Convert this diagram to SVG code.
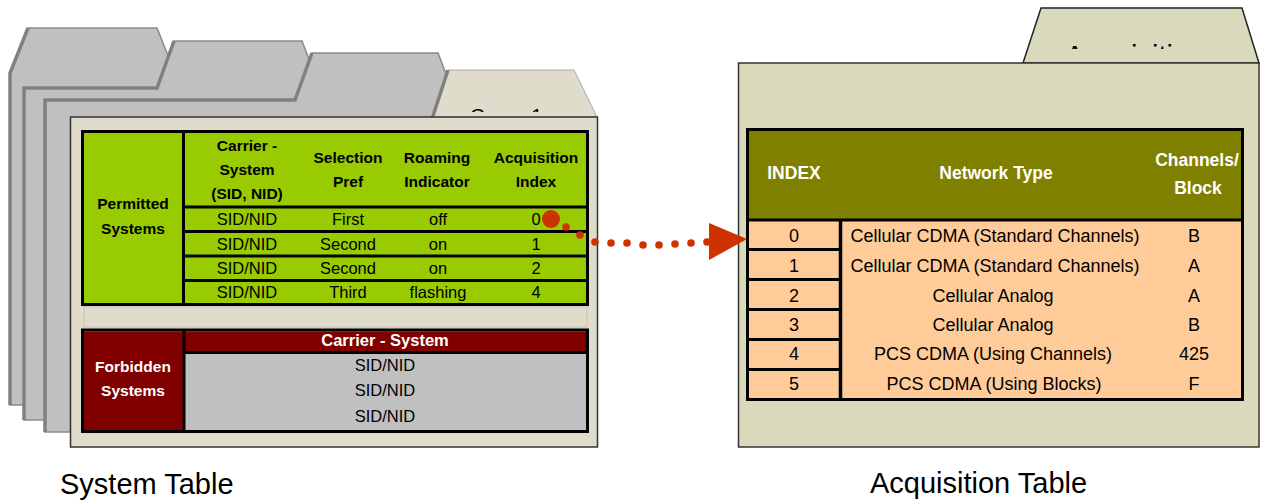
<svg xmlns="http://www.w3.org/2000/svg" width="1263" height="500" viewBox="0 0 1263 500">
<defs>
<style>
.t{font-family:"Liberation Sans",Arial,sans-serif;text-anchor:middle;fill:#000}
.hd{font-size:15.5px;font-weight:bold}
.cell{font-size:16.5px}
.ac{font-size:18px}
.ah{font-size:17.5px;font-weight:bold;fill:#fff}
.wh{fill:#fff}
.fold{fill:#C0C0C0;stroke:#8a8a8a;stroke-width:1.5}
.shade{fill:none;stroke:#808080;stroke-width:3.5}
.ln{stroke:#000;stroke-width:3}
.dot{fill:#CC3300}
.lbl{font-family:"Liberation Sans",Arial,sans-serif;font-size:29px;fill:#000}
</style>
<clipPath id="clipG"><rect x="440" y="60" width="150" height="52"/></clipPath>
<clipPath id="clipA"><rect x="1030" y="0" width="220" height="49"/></clipPath>
</defs>
<rect width="1263" height="500" fill="#fff"/>

<g id="folder-stack">
  <polygon class="fold" points="10,405 10,73 28,28 157,28 175,73 540,73 540,405"/>
  <polyline class="shade" points="10,405 10,73 28,28"/>
  <polygon class="fold" points="24,420 24,88 157,88 174,41 302,41 320,88 550,88 550,420"/>
  <polyline class="shade" points="24,420 24,88 157,88 174,41"/>
  <polygon class="fold" points="45,432 45,100 295,100 312,53 438,53 456,100 560,100 560,432"/>
  <polyline class="shade" points="45,432 45,100 295,100 312,53"/>
</g>

<g id="system-table">
  <polygon points="432,117 448,70 574,70 597,117" fill="#DFDCCB" stroke="#aaa" stroke-width="1"/>
  <line x1="432" y1="119" x2="448" y2="70" stroke="#808080" stroke-width="3.5"/>
  <text class="t" x="470" y="122.6" style="text-anchor:start;font-size:20px" clip-path="url(#clipG)">Group 1</text>
  <rect x="70.5" y="117" width="527" height="330" fill="#DFDCCB" stroke="#333" stroke-width="1.5"/>

  <rect x="82.5" y="131.5" width="505" height="173" fill="#99CC00" stroke="#000" stroke-width="3"/>
  <line class="ln" x1="183.5" y1="131" x2="183.5" y2="305"/>
  <line class="ln" x1="183" y1="207" x2="588" y2="207"/>
  <line class="ln" x1="183" y1="231.5" x2="588" y2="231.5"/>
  <line class="ln" x1="183" y1="256" x2="588" y2="256"/>
  <line class="ln" x1="183" y1="280.5" x2="588" y2="280.5"/>

  <text class="t hd" x="133" y="209">Permitted</text>
  <text class="t hd" x="133" y="234">Systems</text>
  <text class="t hd" x="247" y="150.5">Carrier -</text>
  <text class="t hd" x="247" y="174.5">System</text>
  <text class="t hd" x="247" y="198.5">(SID, NID)</text>
  <text class="t hd" x="348" y="162.5">Selection</text>
  <text class="t hd" x="348" y="186.5">Pref</text>
  <text class="t hd" x="437" y="162.5">Roaming</text>
  <text class="t hd" x="437" y="186.5">Indicator</text>
  <text class="t hd" x="536" y="162.5">Acquisition</text>
  <text class="t hd" x="536" y="186.5">Index</text>

  <text class="t cell" x="247" y="225">SID/NID</text>
  <text class="t cell" x="348" y="225">First</text>
  <text class="t cell" x="438" y="225">off</text>
  <text class="t cell" x="536" y="225">0</text>
  <text class="t cell" x="247" y="250">SID/NID</text>
  <text class="t cell" x="348" y="250">Second</text>
  <text class="t cell" x="438" y="250">on</text>
  <text class="t cell" x="536" y="250">1</text>
  <text class="t cell" x="247" y="274">SID/NID</text>
  <text class="t cell" x="348" y="274">Second</text>
  <text class="t cell" x="438" y="274">on</text>
  <text class="t cell" x="536" y="274">2</text>
  <text class="t cell" x="247" y="298">SID/NID</text>
  <text class="t cell" x="348" y="298">Third</text>
  <text class="t cell" x="438" y="298">flashing</text>
  <text class="t cell" x="536" y="298">4</text>

  <rect x="84" y="307" width="503" height="20" fill="#DFDCCB" stroke="#c4c1b0" stroke-width="1"/>

  <rect x="82.5" y="330" width="505" height="101.5" fill="#C0C0C0" stroke="#000" stroke-width="3"/>
  <rect x="84" y="331.5" width="99" height="98.5" fill="#800000"/>
  <rect x="185" y="331.5" width="401" height="20" fill="#800000"/>
  <line class="ln" x1="184" y1="330" x2="184" y2="431"/>
  <line class="ln" x1="184" y1="352.5" x2="588" y2="352.5"/>
  <text class="t hd wh" x="133" y="371.5">Forbidden</text>
  <text class="t hd wh" x="133" y="395.5">Systems</text>
  <text class="t wh" x="385" y="346" style="font-size:16.5px;font-weight:bold">Carrier - System</text>
  <text class="t cell" x="385" y="371">SID/NID</text>
  <text class="t cell" x="385" y="396">SID/NID</text>
  <text class="t cell" x="385" y="422">SID/NID</text>
</g>

<g id="acquisition-table">
  <polygon points="1023,63 1041,8 1242,8 1259,63" fill="#D9D9BC" stroke="#222" stroke-width="1.5"/>
  <text class="t" x="1065" y="66" style="text-anchor:start;font-size:29px" clip-path="url(#clipA)">Acquisition</text>
  <rect x="738.5" y="63" width="520.5" height="384" fill="#D9D9BC" stroke="#333" stroke-width="1.5"/>

  <rect x="747.5" y="129.5" width="495" height="270" fill="#FFCC99" stroke="#000" stroke-width="3"/>
  <rect x="749" y="131" width="492" height="88" fill="#808000"/>
  <line class="ln" x1="747" y1="220" x2="1243" y2="220"/>
  <line x1="840.5" y1="220" x2="840.5" y2="400" stroke="#000" stroke-width="3.5"/>
  <line class="ln" x1="747" y1="249.5" x2="840" y2="249.5"/>
  <line class="ln" x1="747" y1="279.5" x2="840" y2="279.5"/>
  <line class="ln" x1="747" y1="309.5" x2="840" y2="309.5"/>
  <line class="ln" x1="747" y1="339.5" x2="840" y2="339.5"/>
  <line class="ln" x1="747" y1="369.5" x2="840" y2="369.5"/>

  <text class="t ah" x="794" y="179">INDEX</text>
  <text class="t ah" x="996" y="179">Network Type</text>
  <text class="t ah" x="1197" y="166">Channels/</text>
  <text class="t ah" x="1198" y="194">Block</text>

  <text class="t ac" x="794" y="241.5">0</text>
  <text class="t ac" x="995" y="241.5">Cellular CDMA (Standard Channels)</text>
  <text class="t ac" x="1194" y="241.5">B</text>
  <text class="t ac" x="794" y="271.5">1</text>
  <text class="t ac" x="995" y="271.5">Cellular CDMA (Standard Channels)</text>
  <text class="t ac" x="1194" y="271.5">A</text>
  <text class="t ac" x="794" y="301.5">2</text>
  <text class="t ac" x="993" y="301.5">Cellular Analog</text>
  <text class="t ac" x="1194" y="301.5">A</text>
  <text class="t ac" x="794" y="330.5">3</text>
  <text class="t ac" x="993" y="330.5">Cellular Analog</text>
  <text class="t ac" x="1194" y="330.5">B</text>
  <text class="t ac" x="794" y="360">4</text>
  <text class="t ac" x="993" y="360">PCS CDMA (Using Channels)</text>
  <text class="t ac" x="1194" y="360">425</text>
  <text class="t ac" x="794" y="390">5</text>
  <text class="t ac" x="994" y="390">PCS CDMA (Using Blocks)</text>
  <text class="t ac" x="1194" y="390">F</text>
</g>

<g id="connectors">
  <circle class="dot" cx="551" cy="219" r="9"/>
  <circle class="dot" cx="566" cy="227" r="3.8"/>
  <circle class="dot" cx="580" cy="235" r="3.8"/>
  <circle class="dot" cx="595" cy="242" r="3.8"/>
  <circle class="dot" cx="611" cy="243" r="3.8"/>
  <circle class="dot" cx="627" cy="243" r="3.8"/>
  <circle class="dot" cx="643" cy="245" r="3.8"/>
  <circle class="dot" cx="659" cy="245" r="3.8"/>
  <circle class="dot" cx="675" cy="244" r="3.8"/>
  <circle class="dot" cx="691" cy="243" r="3.8"/>
  <circle class="dot" cx="707" cy="242" r="3.8"/>
  <polygon class="dot" points="709,223 747,239 709,260"/>
</g>

<g id="labels">
  <text class="lbl" x="60" y="494">System Table</text>
  <text class="lbl" x="870" y="493">Acquisition Table</text>
</g>
</svg>
